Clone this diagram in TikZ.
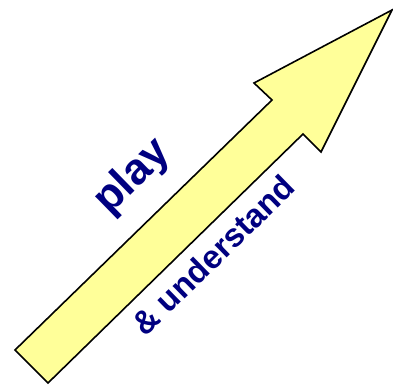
\documentclass[tikz,border=0pt]{standalone}
\usepackage{fontspec}
\setmainfont{Liberation Sans}
\usepackage{tikz}
\definecolor{arrowfill}{RGB}{255,255,153}
\definecolor{labelblue}{RGB}{0,0,128}
\tikzset{
  bigarrow/.style={draw=black,line width=1.6bp,fill=arrowfill,line join=miter},
  tag/.style={text=labelblue,font=\bfseries,inner sep=0pt,rotate=44.3}
}

\begin{document}
\begin{tikzpicture}[x=1bp,y=-1bp]
  \useasboundingbox (0,0) rectangle (393,386);
  % the arrow
  \draw[bigarrow] (15,350) -- (272,100) -- (254,83) -- (392,10)
    -- (321,152) -- (303,134) -- (48,383) -- cycle;
  \node[tag,font=\fontsize{44}{48}\bfseries\selectfont] (play) at (133,177) {play};
  \node[tag,font=\fontsize{33}{37}\bfseries\selectfont] (understand) at (213,255) {\& understand};
\end{tikzpicture}
\end{document}
